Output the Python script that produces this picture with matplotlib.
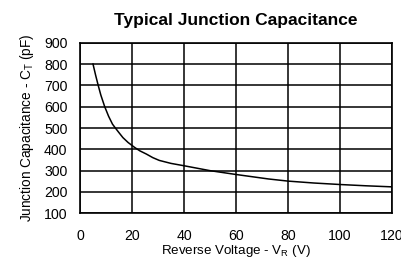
import matplotlib
matplotlib.use("Agg")
import matplotlib.pyplot as plt

plt.rcParams['font.family'] = ['Liberation Sans', 'DejaVu Sans']

voltage = [5, 6, 7, 8, 9.5, 11, 12.5, 13.6, 15, 16.5, 18.5, 21, 23, 25.5, 28, 30.5,
           35, 40, 50, 60, 72.5, 80, 90, 100, 110, 120]
capacitance = [800, 748, 700, 655, 600, 555, 518, 500, 478, 455, 432, 409, 393, 378, 361, 348,
               334, 323, 300, 282, 261, 251, 242, 235, 229, 224]
x_ticks = [0, 20, 40, 60, 80, 100, 120]
y_ticks = [100, 200, 300, 400, 500, 600, 700, 800, 900]

fig = plt.figure(figsize=(4.01, 2.60), dpi=100)
ax = fig.add_axes([80/401, 1-213.3/260, (392-80)/401, (213.3-42.7)/260])

ax.plot(voltage, capacitance, color='black', lw=1.1, zorder=3)
ax.set_xlim(0, 120)
ax.set_ylim(100, 900)
ax.set_xticks(x_ticks)
ax.set_yticks(y_ticks)
ax.grid(True, color='black', lw=1.1)
for s in ax.spines.values():
    s.set_linewidth(1.2)
ax.tick_params(length=0, labelsize=10.2)
ax.tick_params(axis='x', pad=11)
ax.tick_params(axis='y', pad=9)

ax.set_xlabel('Reverse Voltage - V$_\\mathregular{R}$ (V)', fontsize=9.6, labelpad=0)
ax.set_ylabel('Junction Capacitance - C$_\\mathregular{T}$ (pF)', fontsize=9.8, labelpad=6)
ax.set_title('Typical Junction Capacitance', fontsize=12.5, fontweight='bold', pad=13)

fig.savefig('out.png', dpi=100)
